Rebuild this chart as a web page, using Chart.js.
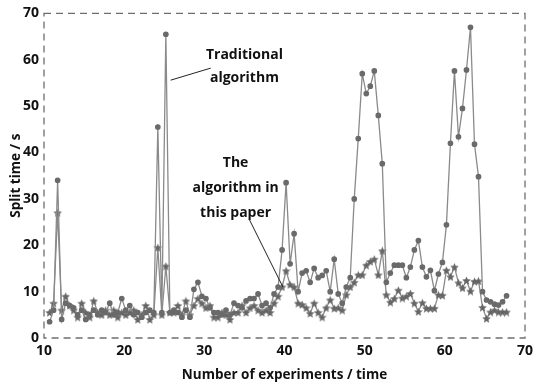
<!DOCTYPE html>
<html>
<head>
<meta charset="utf-8">
<script src="https://cdn.jsdelivr.net/npm/chart.js@4.4.0/dist/chart.umd.min.js"></script>
<style>
  body { margin: 0; background: #fff; }
  #wrap { width: 538px; height: 385px; }
</style>
</head>
<body>
<div id="wrap"><canvas id="myChart" width="538" height="385"></canvas></div>
<script>
const xValues = [
    10.7, 11.2, 11.7, 12.2, 12.7, 13.2, 13.7, 14.2, 14.7, 15.2,
    15.7, 16.2, 16.7, 17.2, 17.7, 18.2, 18.7, 19.2, 19.7, 20.2,
    20.7, 21.2, 21.7, 22.2, 22.7, 23.2, 23.7, 24.2, 24.7, 25.2,
    25.7, 26.2, 26.7, 27.2, 27.7, 28.2, 28.7, 29.2, 29.7, 30.2,
    30.7, 31.2, 31.7, 32.2, 32.7, 33.2, 33.7, 34.2, 34.7, 35.2,
    35.7, 36.2, 36.7, 37.2, 37.7, 38.2, 38.7, 39.2, 39.7, 40.2,
    40.7, 41.2, 41.7, 42.2, 42.7, 43.2, 43.7, 44.2, 44.7, 45.2,
    45.7, 46.2, 46.7, 47.2, 47.7, 48.2, 48.7, 49.2, 49.7, 50.2,
    50.7, 51.2, 51.7, 52.2, 52.7, 53.2, 53.7, 54.2, 54.7, 55.2,
    55.7, 56.2, 56.7, 57.2, 57.7, 58.2, 58.7, 59.2, 59.7, 60.2,
    60.7, 61.2, 61.7, 62.2, 62.7, 63.2, 63.7, 64.2, 64.7, 65.2,
    65.7, 66.2, 66.7, 67.2, 67.7
];

// split time (s) - traditional algorithm
const traditional = [
    3.5, 6, 34, 4, 7.5, 7, 6.5, 5, 6, 4,
    5, 6, 5, 6, 5.5, 7.5, 5, 5.5, 8.5, 6,
    7, 5, 5.5, 4.5, 5.5, 6, 5.5, 45.5, 5.5, 65.5,
    5.5, 6, 5.5, 4.5, 6, 4.5, 10.5, 12, 9, 8.5,
    6.5, 5.5, 5.5, 5, 6, 5, 7.5, 7, 6.5, 8,
    8.5, 8.5, 9.5, 7, 7.5, 6.5, 9.5, 11, 19, 33.5,
    16, 22.5, 10, 14, 14.5, 12, 15, 13, 13.5, 14.5,
    10, 17, 9.5, 7.5, 11, 13, 30, 43, 57, 52.7,
    54.3, 57.6, 48, 37.6, 12, 14, 15.7, 15.7, 15.7, 13,
    15.3, 19, 21, 15.3, 13.2, 14.6, 10.2, 13.8, 16.3, 24.4,
    42, 57.6, 43.4, 49.5, 57.8, 67, 41.8, 34.8, 10, 8.2,
    7.8, 7.3, 7.1, 7.8, 9.1
];

// split time (s) - the algorithm in this paper
const proposed = [
    5.5, 7.5, 27, 6, 9, 7, 6, 4.5, 7.5, 5.5,
    4.5, 8, 5.5, 5, 6, 5, 6, 4.5, 5.5, 5,
    5.5, 6, 4, 5, 7, 4, 5, 19.5, 5, 15.5,
    5.5, 5.5, 7, 5, 8, 5, 7, 8.5, 7.5, 6.5,
    7, 4.5, 4.5, 5.5, 5, 4, 5.5, 5.5, 7, 5.5,
    6.5, 7, 6, 5.5, 6, 5.5, 7.5, 9, 11, 14.5,
    11.5, 11, 7.5, 7.2, 6.5, 5.3, 7.5, 5.5, 4.5, 6.5,
    8.2, 6.4, 6.5, 6, 9.3, 11, 12, 13.6, 13.6, 15.7,
    16.5, 17, 13.6, 18.8, 9.3, 7.7, 8.5, 10.3, 8.6, 9,
    9.6, 7.5, 5.7, 7.6, 6.4, 6.4, 6.4, 9.3, 9.2, 14.6,
    13.2, 15.3, 11.9, 10.8, 12.4, 10.1, 12.2, 12.3, 6.6, 4.2,
    5.6, 6, 5.6, 5.6, 5.6
];

const xTicks = [10, 20, 30, 40, 50, 60, 70];
const yTicks = [0, 10, 20, 30, 40, 50, 60, 70];

// callout texts, placed in data units
const labelTraditional = { lines: ['Traditional', 'algorithm'], x: 35, y: [61, 56], from: [25.8, 55.6], to: [30.8, 58.2] };
const labelPaper = { lines: ['The', 'algorithm in', 'this paper'], x: 33.9, y: [37.7, 32.3, 26.9], from: [35.6, 25.6], to: [39.8, 11] };

const FONT = '"Open Sans", Lato, sans-serif';

// small filled five point star used as marker
function makeStar(size, color) {
    const c = document.createElement('canvas');
    c.width = size;
    c.height = size;
    const g = c.getContext('2d');
    const cx = size / 2, cy = size / 2 + 0.5, R = size / 2, r = R * 0.45;
    g.beginPath();
    for (let i = 0; i < 10; i++) {
        const rad = i % 2 === 0 ? R : r;
        const ang = -Math.PI / 2 + i * Math.PI / 5;
        const px = cx + rad * Math.cos(ang), py = cy + rad * Math.sin(ang);
        if (i === 0) g.moveTo(px, py); else g.lineTo(px, py);
    }
    g.closePath();
    g.fillStyle = color;
    g.fill();
    return c;
}
const starImg = makeStar(9, '#666');

const framePlugin = {
    id: 'frame',
    afterDraw(chart) {
        const { ctx, chartArea: a, scales } = chart;
        ctx.save();
        ctx.strokeStyle = '#6e6e6e';
        ctx.lineWidth = 1.3;
        ctx.setLineDash([7, 5]);
        ctx.strokeRect(a.left, a.top, a.right - a.left, a.bottom - a.top);
        ctx.setLineDash([]);

        ctx.fillStyle = '#111';
        ctx.font = 'bold 14px ' + FONT;
        ctx.textAlign = 'center';
        ctx.textBaseline = 'middle';
        [labelTraditional, labelPaper].forEach(lb => {
            const px = scales.x.getPixelForValue(lb.x);
            lb.lines.forEach((t, i) => {
                ctx.fillText(t, px, scales.y.getPixelForValue(lb.y[i]));
            });
            ctx.strokeStyle = '#222';
            ctx.lineWidth = 1;
            ctx.beginPath();
            ctx.moveTo(scales.x.getPixelForValue(lb.from[0]), scales.y.getPixelForValue(lb.from[1]));
            ctx.lineTo(scales.x.getPixelForValue(lb.to[0]), scales.y.getPixelForValue(lb.to[1]));
            ctx.stroke();
        });
        ctx.restore();
    }
};

const ctx = document.getElementById('myChart').getContext('2d');
new Chart(ctx, {
    type: 'line',
    data: {
        datasets: [
            {
                label: 'Traditional algorithm',
                data: xValues.map((x, i) => ({ x: x, y: traditional[i] })),
                borderColor: '#8a8a8a',
                backgroundColor: '#6a6a6a',
                pointBackgroundColor: '#6a6a6a',
                pointBorderColor: '#6a6a6a',
                pointRadius: 2.2,
                pointStyle: 'circle',
                borderWidth: 1.3,
                tension: 0,
                fill: false,
            },
            {
                label: 'The algorithm in this paper',
                data: xValues.map((x, i) => ({ x: x, y: proposed[i] })),
                borderColor: '#8a8a8a',
                pointStyle: starImg,
                borderWidth: 1.3,
                tension: 0,
                fill: false,
            },
        ],
    },
    options: {
        responsive: false,
        animation: false,
        devicePixelRatio: 1,
        layout: { padding: { top: 13, right: 9, left: 0, bottom: 0 } },
        plugins: {
            legend: { display: false },
            tooltip: { enabled: false },
        },
        scales: {
            x: {
                type: 'linear',
                min: 10,
                max: 70,
                afterBuildTicks: s => { s.ticks = xTicks.map(v => ({ value: v })); },
                afterFit: s => { s.height = 47; },
                grid: { display: false, drawTicks: false },
                border: { display: false },
                ticks: {
                    color: '#111',
                    padding: 5,
                    maxRotation: 0,
                    font: { family: FONT, size: 14, weight: 'bold' },
                },
                title: {
                    display: true,
                    text: 'Number of experiments / time',
                    color: '#111',
                    padding: { top: 0, bottom: 2 },
                    font: { family: FONT, size: 13.5, weight: 'bold' },
                },
            },
            y: {
                min: 0,
                max: 70,
                afterBuildTicks: s => { s.ticks = yTicks.map(v => ({ value: v })); },
                afterFit: s => { s.width = 44; },
                grid: { display: false, drawTicks: false },
                border: { display: false },
                ticks: {
                    color: '#111',
                    padding: 5,
                    font: { family: FONT, size: 14, weight: 'bold' },
                },
                title: {
                    display: true,
                    text: 'Split time / s',
                    color: '#111',
                    padding: { top: 8, bottom: 0 },
                    font: { family: FONT, size: 13.5, weight: 'bold' },
                },
            },
        },
    },
    plugins: [framePlugin],
});
</script>
</body>
</html>
